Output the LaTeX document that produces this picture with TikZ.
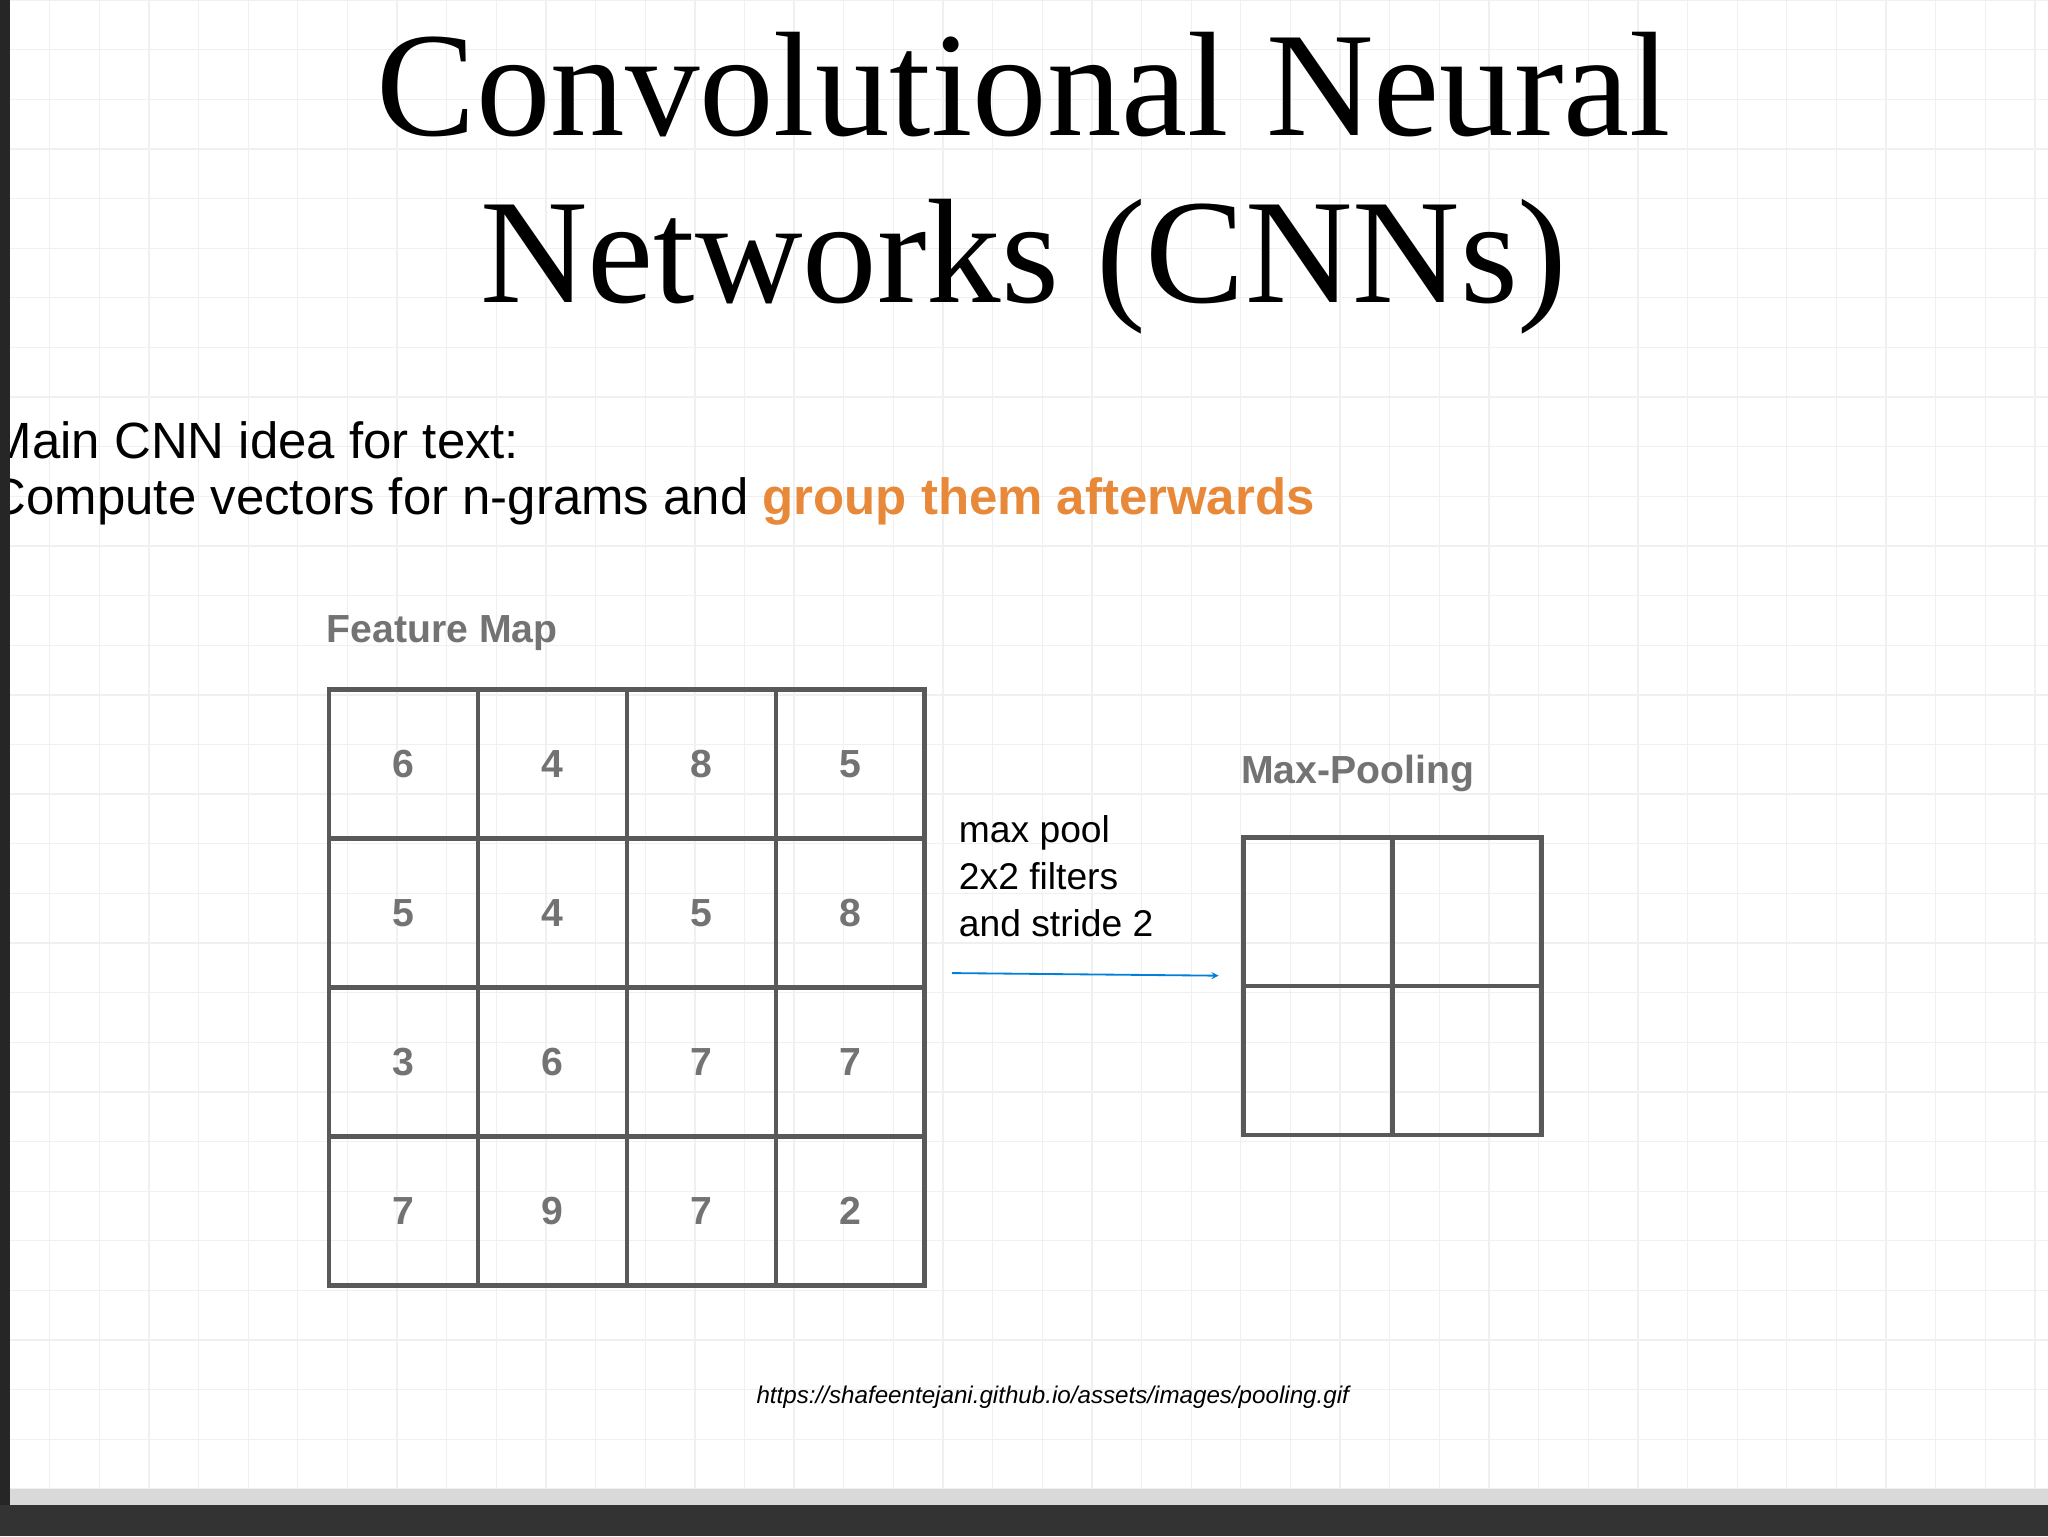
\documentclass[tikz,border=0pt]{standalone}
\usepackage{fontspec}
\setmainfont{Liberation Serif}
\setsansfont{Liberation Sans}
\begin{document}
\begin{tikzpicture}[x=1pt,y=-1pt,
  cell/.style={draw=black!65,line width=3.5pt,minimum size=114pt,inner sep=0pt,font=\sffamily\bfseries\fontsize{30}{30}\selectfont,text=black!55},
  body/.style={font=\sffamily\fontsize{39}{44}\selectfont,anchor=west,inner sep=0pt},
  hdr/.style={font=\sffamily\bfseries\fontsize{30}{30}\selectfont,text=black!55,anchor=west,inner sep=0pt}]
\useasboundingbox (0,0) rectangle (1568,1176);
\clip (0,0) rectangle (1568,1176);
\fill[white] (0,0) rectangle (1568,1176);
\foreach \i in {0,38,...,1568} \draw[black!6,line width=1pt] (\i,0) -- (\i,1176);
\foreach \j in {0,38,...,1176} \draw[black!6,line width=1pt] (0,\j) -- (1568,\j);
\node[font=\fontsize{114}{128}\selectfont,align=center,inner sep=0pt] (title) at (784,140) {Convolutional Neural\\Networks (CNNs)};
\node[body] (l1) at (-8,337) {Main CNN idea for text:};
\node[body] (l2) at (-8,384) {Compute vectors for n-grams and \textcolor[HTML]{E8893A}{\bfseries group them afterwards}};
\node[hdr] (fm) at (250,485) {Feature Map};
\foreach \r/\row in {0/{6,4,8,5},1/{5,4,5,8},2/{3,6,7,7},3/{7,9,7,2}}{
  \foreach \v [count=\c from 0] in \row {
    \node[cell] (f\r\c) at (309+114*\c,585+114*\r) {\v};
  }}
\node[hdr] (mp) at (950,592) {Max-Pooling};
\foreach \r in {0,1}{\foreach \c in {0,1}{
  \node[cell] (m\r\c) at (1009+114*\c,698+114*\r) {};}}
\node[body,align=left,font=\sffamily\fontsize{28.5}{36}\selectfont,anchor=north west] (lab) at (734,624) {max pool\\2x2 filters\\and stride 2};
\coordinate (a1) at (729,745);
\coordinate (a2) at (933,747);
\draw[-stealth,color=black!30!blue!50!cyan,line width=1.4pt] (a1) -- (a2);
\node[font=\sffamily\itshape\fontsize{18.5}{20}\selectfont] (url) at (806,1070) {https://shafeentejani.github.io/assets/images/pooling.gif};
\fill[black!85] (0,0) rectangle (8,1176);
\fill[black!80] (0,1152) rectangle (1568,1176);
\fill[black!15] (8,1140) rectangle (1568,1152);
\end{tikzpicture}
\end{document}
